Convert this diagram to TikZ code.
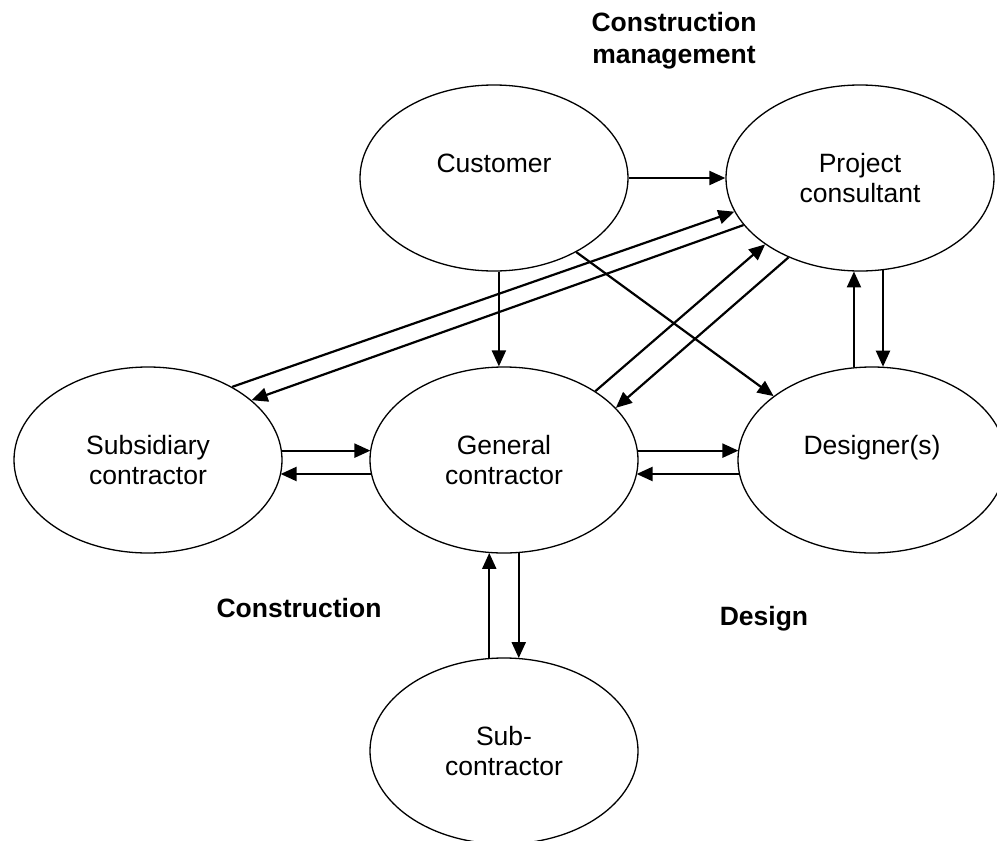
\documentclass[tikz,border=0pt]{standalone}
\usepackage{fontspec}
\setmainfont{Liberation Sans}
\usetikzlibrary{arrows.meta,shapes.geometric}

\begin{document}
\begin{tikzpicture}[x=1pt,y=-1pt,
  party/.style={ellipse,draw=black,line width=1.3pt,minimum width=268pt,minimum height=186pt,align=center,font=\fontsize{26.5}{30}\selectfont},
  zone/.style={align=center,font=\bfseries\fontsize{26.5}{32}\selectfont},
  >={Triangle[length=16pt,width=14pt]},
  flow/.style={->,line width=2.2pt}]
\useasboundingbox (0,0) rectangle (997,841);
\clip (0,0) rectangle (997,841);

\node[party] (cust) at (494,178){Customer\\\phantom{X}};
\node[party] (pc) at (860,178){Project\\consultant};
\node[party] (sc) at (148,460){Subsidiary\\contractor};
\node[party] (gc) at (504,460){General\\contractor};
\node[party] (des) at (872,460){Designer(s)\\\phantom{X}};
\node[party] (sub) at (504,751){Sub-\\contractor};

\node[zone] (cm) at (674,41){Construction\\management};
\node[zone] (con) at (299,608){Construction};
\node[zone] (dsg) at (764,619){Design};

% customer
\draw[flow] (cust) to (pc);
\draw[flow] (cust.273.7) to (cust.273.7 |- gc.92.5);
\draw[flow] (cust.318.9) to (des.147.8);
% subsidiary <-> consultant
\draw[flow] (sc.41.8) to (pc.195.3);
\draw[flow] (pc.202.2) to (sc.30.6);
% general <-> consultant
\draw[flow] (gc.37.4) to (pc.215.2);
\draw[flow] (pc.228.1) to (gc.25.9);
% designer <-> consultant
\draw[flow] (des.101.7) to (des.101.7 |- pc.265.7);
\draw[flow] (pc.284.1) to (pc.284.1 |- des.83.2);
% middle row
\draw[flow] (sc.4.7) to (sc.4.7 -| gc.175.3);
\draw[flow] (gc.186.5) to (gc.186.5 -| sc.353.5);
\draw[flow] (gc.4.7) to (gc.4.7 -| des.175.3);
\draw[flow] (des.186.5) to (des.186.5 -| gc.353.5);
% sub-contractor
\draw[flow] (sub.99.8) to (sub.99.8 |- gc.260.2);
\draw[flow] (gc.279.8) to (gc.279.8 |- sub.80.2);
\end{tikzpicture}
\end{document}
